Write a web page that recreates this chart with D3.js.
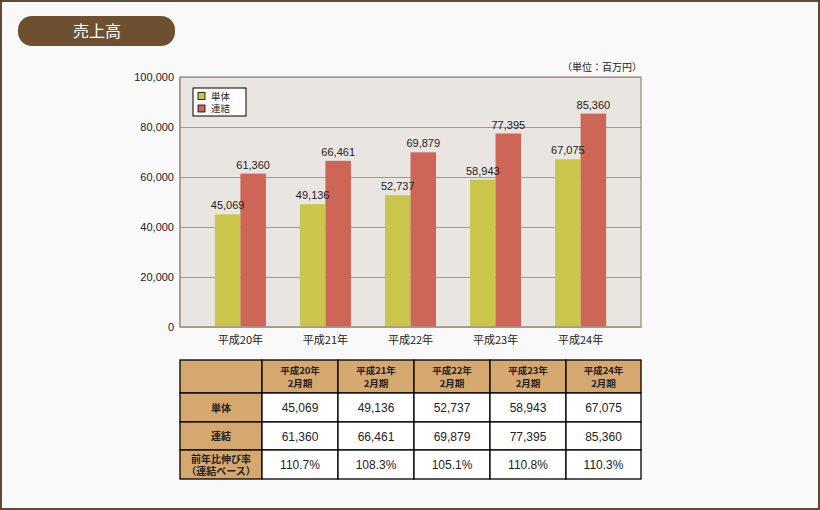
<!DOCTYPE html>
<html lang="ja">
<head>
<meta charset="UTF-8">
<title>売上高</title>
<script src="https://cdn.jsdelivr.net/npm/d3@7"></script>
<style>
  body { margin: 0; background: #f9f9f9; }
  svg { display: block; font-family: "Noto Sans CJK JP", "Liberation Sans", sans-serif; }
</style>
</head>
<body>
<script>
// データ
var years = ['平成20年', '平成21年', '平成22年', '平成23年', '平成24年']
var tanntai = [45069, 49136, 52737, 58943, 67075]
var renketsu = [61360, 66461, 69879, 77395, 85360]
var growth = ['110.7%', '108.3%', '105.1%', '110.8%', '110.3%']
var seriesNames = ['単体', '連結']
var yTicks = [0, 20000, 40000, 60000, 80000, 100000]

var w = 820, h = 510
var plotL = 180, plotR = 641, plotT = 77, plotB = 327
var colors = ['#c9c64b', '#cd6656']
var fmt = d3.format(',')

var svg = d3.select('body').append('svg').attr('width', w).attr('height', h)

// 外枠
svg.append('rect').attr('x', 1).attr('y', 1).attr('width', w - 2).attr('height', h - 2)
  .attr('fill', '#f9f9f9').attr('stroke', '#5e4a33').attr('stroke-width', 2)

// タイトル
svg.append('rect').attr('x', 18).attr('y', 16).attr('width', 157).attr('height', 30)
  .attr('rx', 14).attr('fill', '#6e5030')
svg.append('text').attr('x', 97).attr('y', 37).attr('text-anchor', 'middle')
  .attr('font-size', 16).attr('fill', '#fff').text('売上高')

// 比例尺
var x = d3.scaleBand().domain(years).range([plotL, plotR]).paddingInner(0.4).paddingOuter(0.41)
var xs = d3.scaleBand().domain([0, 1]).range([0, x.bandwidth()])
var y = d3.scaleLinear().domain([0, 100000]).range([plotB, plotT])

svg.append('rect').attr('x', plotL).attr('y', plotT).attr('width', plotR - plotL).attr('height', plotB - plotT)
  .attr('fill', '#e9e5e1').attr('stroke', '#a59a8c').attr('stroke-width', 1.5)

// 目盛線
svg.append('g').attr('transform', 'translate(' + plotL + ',0)')
  .call(d3.axisLeft(y).tickValues(yTicks).tickSize(plotL - plotR).tickFormat(fmt).tickPadding(6))
  .call(function (g) {
    g.select('.domain').remove()
    g.selectAll('line').attr('stroke', '#a59a8c')
    g.selectAll('text').attr('font-size', 11).attr('fill', '#222')
      .attr('font-family', '"Liberation Sans", sans-serif')
  })

// 棒グラフ
var data = [tanntai, renketsu]
data.forEach(function (vals, s) {
  svg.append('g').selectAll('rect').data(vals).enter().append('rect')
    .attr('x', function (d, i) { return x(years[i]) + xs(s) })
    .attr('y', function (d) { return y(d) })
    .attr('width', xs.bandwidth())
    .attr('height', function (d) { return plotB - y(d) })
    .attr('fill', colors[s])
})
// 値ラベル（棒の後に描く）
data.forEach(function (vals, s) {
  svg.append('g').selectAll('text').data(vals).enter().append('text')
    .attr('x', function (d, i) { return x(years[i]) + xs(s) + xs.bandwidth() / 2 })
    .attr('y', function (d) { return y(d) - 5 })
    .attr('text-anchor', 'middle').attr('font-size', 11).attr('fill', '#222')
    .attr('font-family', '"Liberation Sans", sans-serif')
    .text(function (d) { return fmt(d) })
})

// 軸線
svg.append('line').attr('x1', plotL).attr('x2', plotR).attr('y1', plotB).attr('y2', plotB)
  .attr('stroke', '#a59a8c').attr('stroke-width', 1.5)
svg.append('line').attr('x1', plotL).attr('x2', plotL).attr('y1', plotT).attr('y2', plotB)
  .attr('stroke', '#a59a8c').attr('stroke-width', 1.5)

// x ラベル
svg.append('g').attr('transform', 'translate(0,' + plotB + ')')
  .call(d3.axisBottom(x).tickSize(0).tickPadding(9))
  .call(function (g) {
    g.select('.domain').remove()
    g.selectAll('text').attr('font-size', 11).attr('fill', '#222')
      .attr('font-family', '"Noto Sans CJK JP", sans-serif')
  })

// 単位
svg.append('text').attr('x', plotR + 1).attr('y', 71).attr('text-anchor', 'end')
  .attr('font-size', 10).attr('fill', '#222').text('（単位：百万円）')

// 凡例
var legend = svg.append('g').attr('transform', 'translate(193,88)')
legend.append('rect').attr('width', 53).attr('height', 28).attr('fill', '#fff').attr('stroke', '#000')
seriesNames.forEach(function (n, i) {
  legend.append('rect').attr('x', 5).attr('y', 4.5 + i * 12.5).attr('width', 7).attr('height', 7)
    .attr('fill', colors[i]).attr('stroke', '#000').attr('stroke-width', 0.8)
  legend.append('text').attr('x', 18).attr('y', 11.5 + i * 12.5).attr('font-size', 9.5).attr('fill', '#222').text(n)
})

// 表
var colX = [180, 262, 338, 414, 490, 566, 641]
var rowY = [360, 393, 422, 450, 479]
var tan = '#d5a86f'
var t = svg.append('g')
for (var r = 0; r < 4; r++) {
  for (var c = 0; c < 6; c++) {
    t.append('rect').attr('x', colX[c]).attr('y', rowY[r])
      .attr('width', colX[c + 1] - colX[c]).attr('height', rowY[r + 1] - rowY[r])
      .attr('fill', (r === 0 || c === 0) ? tan : '#fff')
      .attr('stroke', '#000').attr('stroke-width', 1.3)
  }
}
function cx(c) { return (colX[c] + colX[c + 1]) / 2 }
function cy(r) { return (rowY[r] + rowY[r + 1]) / 2 }
years.forEach(function (yr, i) {
  t.append('text').attr('x', cx(i + 1)).attr('y', cy(0) - 3).attr('text-anchor', 'middle')
    .attr('font-size', 9.5).attr('font-weight', 'bold').attr('fill', '#222').text(yr)
  t.append('text').attr('x', cx(i + 1)).attr('y', cy(0) + 10).attr('text-anchor', 'middle')
    .attr('font-size', 9.5).attr('font-weight', 'bold').attr('fill', '#222').text('2月期')
})
var rowLabels = [['単体'], ['連結'], ['前年比伸び率', '（連結ベース）']]
var rowVals = [tanntai.map(fmt), renketsu.map(fmt), growth]
rowLabels.forEach(function (lab, r) {
  lab.forEach(function (l, k) {
    t.append('text').attr('x', cx(0)).attr('y', cy(r + 1) + 4 + (lab.length > 1 ? (k - 0.5) * 12 : 0))
      .attr('text-anchor', 'middle').attr('font-size', 10).attr('font-weight', 'bold').attr('fill', '#222').text(l)
  })
  rowVals[r].forEach(function (v, i) {
    t.append('text').attr('x', cx(i + 1)).attr('y', cy(r + 1) + 4.5).attr('text-anchor', 'middle')
      .attr('font-size', 12).attr('fill', '#222').attr('font-family', '"Liberation Sans", sans-serif').text(v)
  })
})
</script>
</body>
</html>
